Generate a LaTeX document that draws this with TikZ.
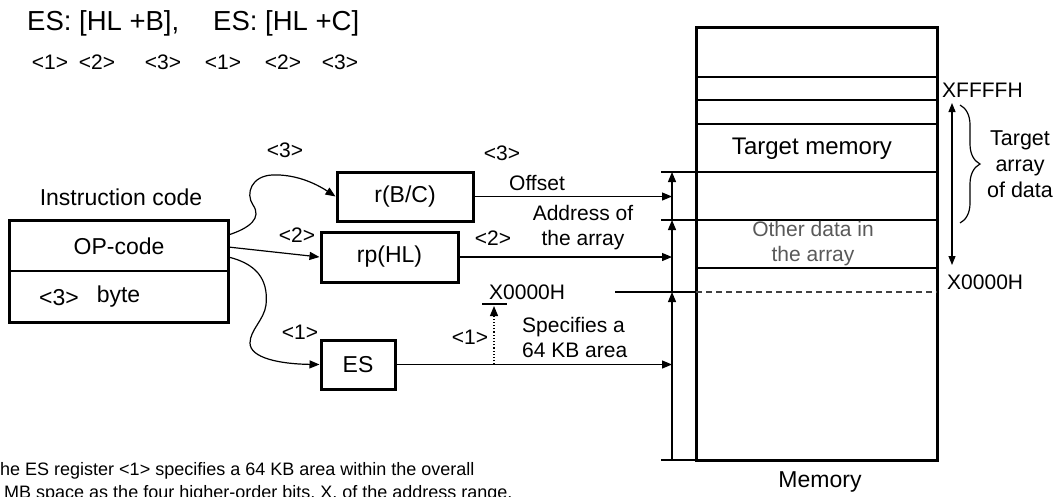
\documentclass[tikz,border=0pt]{standalone}
\usepackage{fontspec}
\setmainfont{Liberation Sans}
\usetikzlibrary{arrows.meta,decorations.pathreplacing,calc}
\tikzset{
  fbig/.style={font=\fontsize{27.5}{32}\selectfont},
  fl/.style={font=\fontsize{23}{27}\selectfont},
  fm/.style={font=\fontsize{21}{25}\selectfont},
  fs/.style={font=\fontsize{18}{23}\selectfont},
  regbox/.style={draw, line width=3pt, inner sep=0pt, fl},
  thinline/.style={line width=1.2pt},
  arr/.style={thinline, -{Triangle[length=10pt,width=8pt]}},
  tagl/.style={fm, inner sep=0pt},
}
\begin{document}
\begin{tikzpicture}[x=1pt,y=-1pt]
\useasboundingbox (0,0) rectangle (1056,496);
\begin{scope}
\clip (0,0) rectangle (1056,496);
% top text
\node[fbig, anchor=west, inner sep=0pt] (t1) at (27,23) {ES: [HL +B],};
\node[fbig, anchor=west, inner sep=0pt] (t2) at (213,23) {ES: [HL +C]};
\foreach \x/\n/\nm in {50/1/a,97/2/b,163/3/c,223/1/d,283/2/e,340/3/f}
  \node[tagl] (top\nm) at (\x,62) {<\n>};

% instruction code
\node[fl] (icap) at (121,197) {Instruction code};
\node[fl, minimum width=218pt, minimum height=50pt, inner sep=0pt] (op) at (119,246) {OP-code};
\node[minimum width=218pt, minimum height=51pt, inner sep=0pt] (bytecell) at (119,296.5) {};
\node[fl, inner sep=0pt] (b3) at (59,298) {<3>};
\node[fl, inner sep=0pt] (byt) at (118.5,297) {byte};
\draw[line width=3.2pt] (op.north west) rectangle (bytecell.south east);
\draw[line width=1.5pt] (op.south west) -- (op.south east);

% registers
\node[regbox, minimum width=136pt, minimum height=49pt] (rbc) at (405,196.5) {r(B/C)};
\node[regbox, minimum width=137pt, minimum height=50pt] (rph) at (389.5,257) {rp(HL)};
\node[regbox, minimum width=74pt, minimum height=49pt] (es) at (358,364.5) {ES};

% connectors from instruction code
\draw[arr] ($(op.east)+(0,-11)$) .. controls (250,228) and (262,218) .. (253,205)
   .. controls (245,193) and (252,176) .. (272,175)
   .. controls (295,174) and (315,183) .. (rbc.west);
\draw[arr] ($(op.east)+(0,1)$) -- (rph.west);
\draw[arr] ($(op.east)+(0,11)$) .. controls (262,265) and (268,285) .. (266,305)
   .. controls (264,320) and (250,330) .. (250,343)
   .. controls (250,358) and (280,364) .. (es.west);

% labels near registers
\node[tagl] (l3a) at (285,150) {<3>};
\node[tagl] (l2a) at (297,235) {<2>};
\node[tagl] (l1a) at (300,332) {<1>};
\node[tagl] (l3b) at (502,153) {<3>};
\node[tagl] (l2b) at (493,238) {<2>};
\node[tagl] (l1b) at (470,337) {<1>};
\node[fm, inner sep=0pt] (offs) at (537,183) {Offset};
\node[fm, inner sep=0pt, align=center] (addr) at (583,227.5) {Address of\\the array};
\node[fm, inner sep=0pt, align=left, anchor=west] (spec) at (522,337.5) {Specifies a\\64 KB area};
\node[fm, inner sep=0pt, anchor=west] (x0a) at (489,292) {X0000H};

% vertical address line
\coordinate (m1) at (672,172);
\coordinate (m2) at (672,220);
\coordinate (m3) at (672,292);
\coordinate (m4) at (672,460);
\draw[arr] (m2) -- (m1);
\draw[arr] (m3) -- (m2);
\draw[arr] (m4) -- (m3);

% horizontal arrows into the address line
\draw[arr] (rbc.east) -- (rbc.east -| m1);
\draw[arr] (rph.east) -- (rph.east -| m1);
\draw[arr] (es.east) -- (es.east -| m1);

% dotted arrow to X0000H
\coordinate (dbot) at (494,364.5);
\coordinate (dtop) at (494,306);
\draw[line width=1.2pt, dotted, -{Triangle[length=10pt,width=8pt]}] (dbot) -- (dtop);
\draw[thinline] (482,304) -- (507,304);

% memory
\node[draw, line width=3pt, minimum width=241pt, minimum height=433pt, inner sep=0pt] (mem) at (816.5,243.5) {};
\foreach \yy in {77,100,124,268}
  \draw[thinline] (696,\yy) -- (937,\yy);
\draw[thinline] (661,172) -- (937,172);
\draw[thinline] (661,220) -- (937,220);
\draw[thinline] (615,292) -- (696,292);
\draw[thinline, dash pattern=on 6pt off 4pt, black!75] (696,292) -- (937,292);
\draw[thinline] (661,460) -- (696,460);
\node[font=\fontsize{24}{28}\selectfont, inner sep=0pt] (tmem) at (812,149) {Target memory};
\node[fm, inner sep=0pt, align=center, text=black!65] (oth) at (813,244) {Other data in\\the array};
\node[fl, inner sep=0pt] (memlbl) at (820,482) {Memory};

% right side
\node[fm, inner sep=0pt, anchor=west] (xf) at (942,90) {XFFFFH};
\node[fm, inner sep=0pt, anchor=west] (x0b) at (947,282) {X0000H};
\coordinate (da) at (952,103);
\coordinate (db) at (952,265);
\draw[thinline, {Triangle[length=9pt,width=7pt]}-{Triangle[length=9pt,width=7pt]}] (da) -- (db);
\coordinate (ba) at (960,105);
\coordinate (bb) at (960,223);
\draw[thinline, decorate, decoration={brace, amplitude=20pt}] (ba) -- (bb);
\node[font=\fontsize{21.5}{26}\selectfont, inner sep=0pt, align=center] (tad) at (1020,164) {Target\\array\\of data};

% bottom note
\node[fs, inner sep=0pt, anchor=west, align=left] (note) at (-11,482) {The ES register <1> specifies a 64 KB area within the overall\\1 MB space as the four higher-order bits, X, of the address range.};
\end{scope}
\end{tikzpicture}
\end{document}
